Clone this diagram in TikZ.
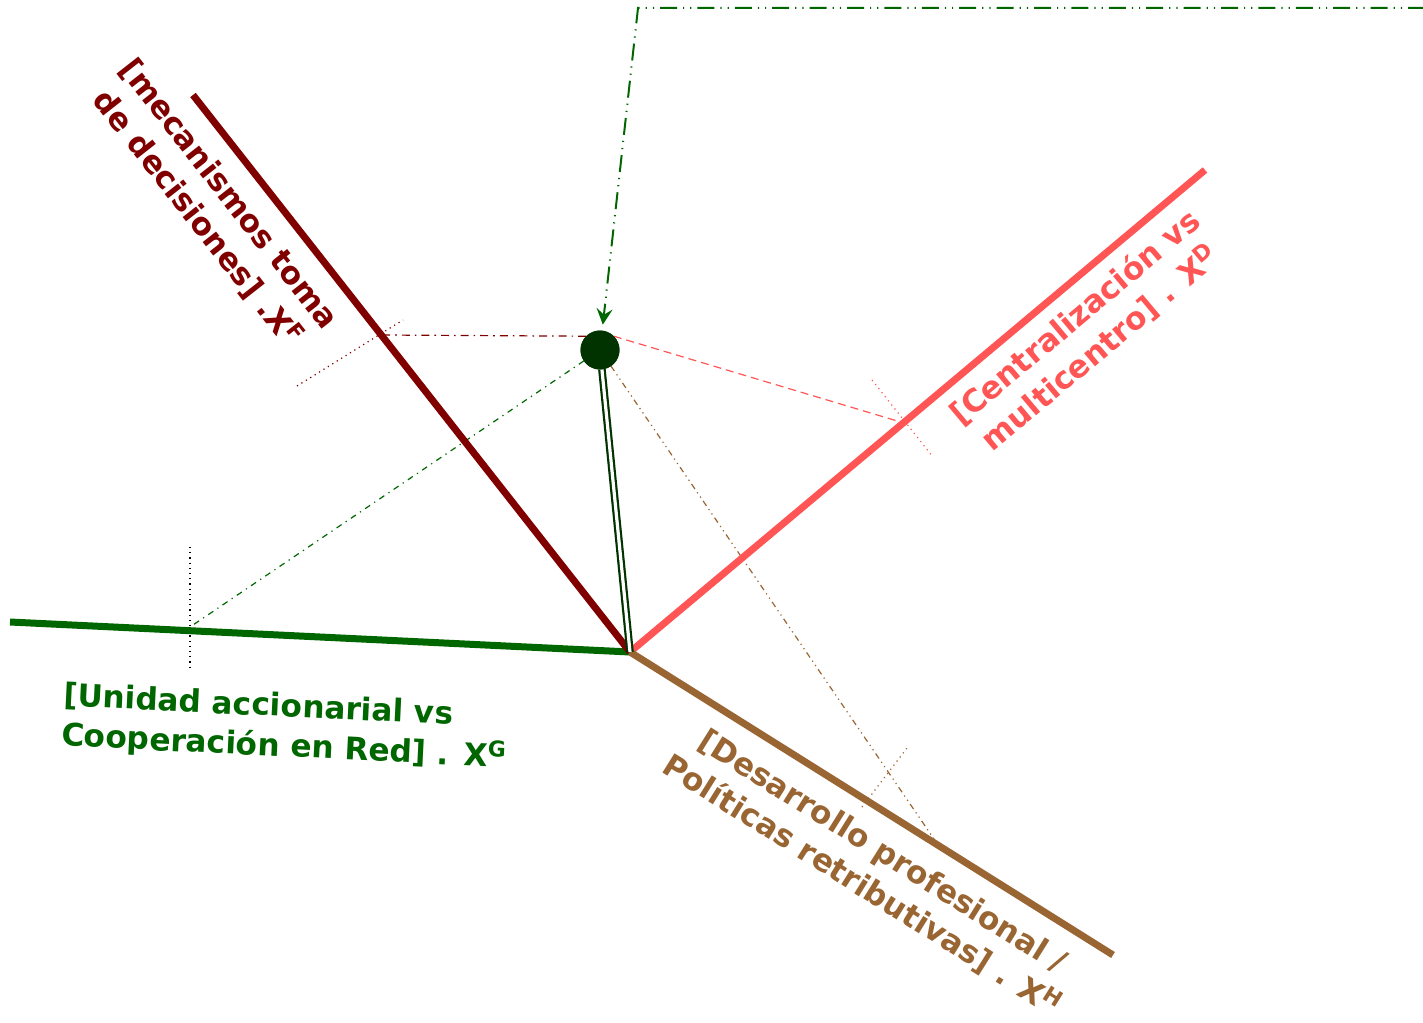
\documentclass[tikz,border=0pt]{standalone}
\usepackage{fontspec}
\setmainfont{DejaVu Sans}
\usetikzlibrary{calc,arrows.meta}
\definecolor{axisF}{HTML}{800000}
\definecolor{axisD}{HTML}{FF5555}
\definecolor{axisG}{HTML}{006600}
\definecolor{axisH}{HTML}{996633}
\definecolor{pointc}{HTML}{003300}

\begin{document}
\begin{tikzpicture}[x=0.5pt,y=-0.5pt,every node/.style={outer sep=0pt},
		axis/.style={line width=3.5pt},
		proj/.style={line width=0.6pt},
		tickmark/.style={line width=0.6pt,dotted},
		lbl/.style={font=\bfseries\fontsize{15.6}{20}\selectfont,align=center,inner sep=0pt},
		]
		\useasboundingbox (0,0) rectangle (1423,1022);

		\coordinate (O) at (630,652);
		\coordinate (eF) at (193,95);
		\coordinate (eD) at (1205,170);
		\coordinate (eG) at (10,622);
		\coordinate (eH) at (1113,955);
		\node[circle,fill=pointc,minimum size=19.5pt,inner sep=0pt] (P) at (600,350) {};

		% pies de las proyecciones
		\coordinate (fF) at (381,335);
		\coordinate (fD) at (904,423);
		\coordinate (fG) at (190,627);
		\coordinate (fH) at (934,839);

		\draw[proj,axisF,dash pattern=on 4pt off 2.5pt on 0.8pt off 2.5pt] (P.north west) -- (fF);
		\draw[proj,axisD,dash pattern=on 4pt off 2.5pt] (P.north east) -- (fD);
		\draw[proj,axisG,dash pattern=on 3pt off 2.5pt on 0.6pt off 2.5pt] (P) -- (fG);
		\draw[proj,axisH,dash pattern=on 3pt off 2pt on 0.6pt off 2pt on 0.6pt off 2pt] (P) -- (fH);

		\draw[tickmark,axisF] (297,386) -- (403,320);
		\draw[tickmark,axisD] (872,380) -- (933,457);
		\draw[tickmark,black] (190,547) -- (190,667);
		\draw[tickmark,axisH] (862,807) -- (907,748);

		\draw[axis,axisG] (eG) -- (O);
		\draw[axis,axisF] (eF) -- (O);
		\draw[axis,axisD] (O) -- (eD);
		\draw[axis,axisH] (O) -- (eH);

		\draw[pointc,line width=1.1pt,double=white,double distance=1.6pt] (P) -- (O);
		\node[circle,fill=pointc,minimum size=19.5pt,inner sep=0pt] at (P) {};

		\coordinate (src) at (1425,8);
		\coordinate (bend) at (638,8);
		\draw[axisG,line width=1pt,dash pattern=on 8.5pt off 3pt on 0.6pt off 3pt on 0.6pt off 3pt,
			-{Stealth[length=8pt,width=8pt,inset=3pt]},shorten >=3pt] (src) -- (bend) -- (P);

		\node[lbl,axisF,rotate=-51.9] (lblF) at (213,207) {[mecanismos toma\\de decisiones] .X\textsuperscript{F}};
		\node[lbl,axisD,rotate=40] (lblD) at (1088,333) {[Centralización vs\\multicentro] . X\textsuperscript{D}};
		\node[lbl,axisG,rotate=-2.8,align=left] (lblG) at (285,728) {[Unidad accionarial vs\\Cooperación en Red] . X\textsuperscript{G}};
		\node[lbl,axisH,rotate=-32.1] (lblH) at (872,869) {[Desarrollo profesional /\\Políticas retributivas] . X\textsuperscript{H}};
\end{tikzpicture}
\end{document}
